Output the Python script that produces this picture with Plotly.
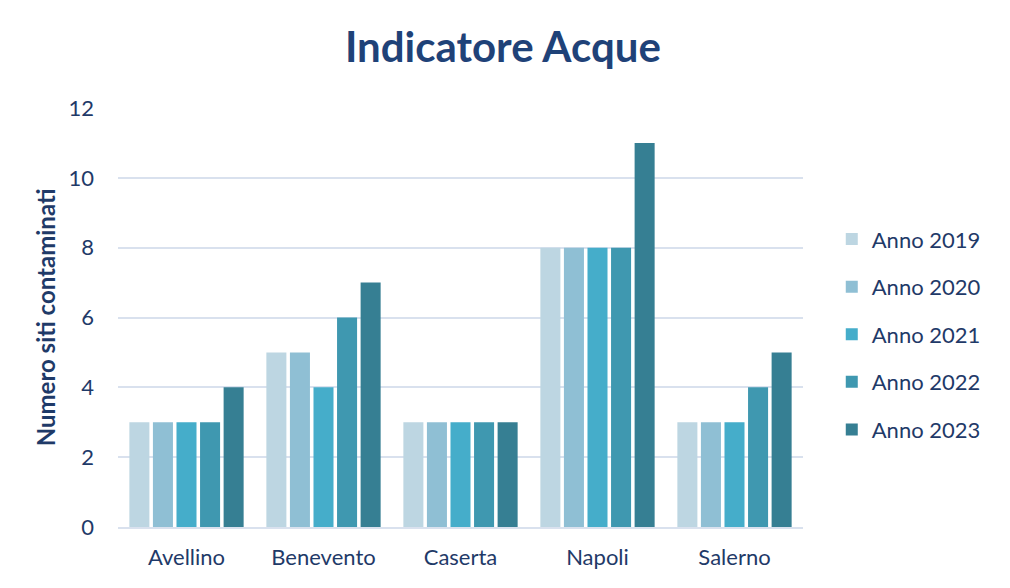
import plotly.graph_objects as go

# Data
province = ["Avellino", "Benevento", "Caserta", "Napoli", "Salerno"]
anni = ["Anno 2019", "Anno 2020", "Anno 2021", "Anno 2022", "Anno 2023"]
siti_2019 = [3, 5, 3, 8, 3]
siti_2020 = [3, 5, 3, 8, 3]
siti_2021 = [3, 4, 3, 8, 3]
siti_2022 = [3, 6, 3, 8, 4]
siti_2023 = [4, 7, 3, 11, 5]

valori = [siti_2019, siti_2020, siti_2021, siti_2022, siti_2023]
colori = ["#bdd6e2", "#8fbfd4", "#45adca", "#3f98b0", "#367f93"]

TEXT = "#1f3a68"
FONT = "Lato, 'Open Sans', sans-serif"

fig = go.Figure()
for nome, ys, col in zip(anni, valori, colori):
    fig.add_trace(go.Bar(
        x=province, y=ys, name=nome, legendgroup=nome,
        marker=dict(color=col, line=dict(width=0)),
    ))

fig.update_layout(
    width=1010, height=588,
    margin=dict(l=110, r=215, t=100, b=69),
    paper_bgcolor="white", plot_bgcolor="white",
    font=dict(family=FONT, color=TEXT, size=22),
    title=dict(text="<b>Indicatore Acque</b>", x=0.49, xanchor="center",
               y=0.934, yanchor="middle",
               font=dict(size=42, color="#1f4278", family=FONT)),
    barmode="group", bargap=0.14, bargroupgap=0.15,
    legend=dict(x=1.042, xanchor="left", y=0.46, yanchor="middle",
                font=dict(size=22, color=TEXT), tracegroupgap=16,
                itemwidth=30),
    showlegend=True,
)
fig.update_yaxes(range=[0, 12], dtick=2, showgrid=True, gridcolor="#d9e1ee",
                 gridwidth=1.5, zeroline=False, ticks="", ticklabelstandoff=23,
                 title=dict(text="<b>Numero siti contaminati</b>", standoff=6,
                            font=dict(size=24, color=TEXT)))
fig.update_xaxes(showline=True, linecolor="#d9e1ee", linewidth=1.5, ticks="",
                 ticklabelstandoff=10)

fig.write_html("out.html")
